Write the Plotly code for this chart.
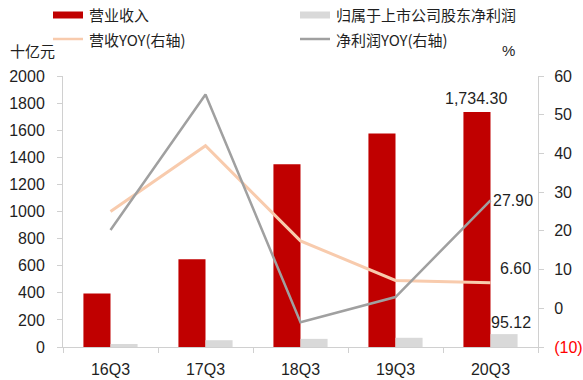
import plotly.graph_objects as go

# Quarterly figures
quarters = ["16Q3", "17Q3", "18Q3", "19Q3", "20Q3"]
revenue = [395, 648, 1348, 1576, 1734.30]          # 营业收入, 十亿元
net_profit = [22, 50, 60, 68, 95.12]                # 归属于上市公司股东净利润, 十亿元
revenue_yoy = [25.0, 42.0, 17.4, 7.2, 6.60]         # 营收YOY, %
profit_yoy = [20.2, 55.2, -3.6, 2.9, 27.90]         # 净利润YOY, %

left_ticks = list(range(0, 2001, 200))
right_ticks = list(range(-10, 61, 10))
right_ticktext = ['<span style="color:#ff0000">(10)</span>' if v < 0 else str(v) for v in right_ticks]

RED = "#C00000"
LIGHT_GRAY = "#D9D9D9"
PEACH = "#F8CBAD"
MID_GRAY = "#A0A0A0"
AXIS = "#D0D0D0"
TEXT = "#1F1F1F"
NUM_FONT = "Liberation Sans, Arial, sans-serif"
CJK_FONT = "Noto Sans CJK SC, sans-serif"

W, H = 583, 380
ML, MR, MT, MB = 63, 45, 76, 33


def px_x(p):
    return (p - ML) / (W - ML - MR)


def px_y(p):
    return (H - MB - p) / (H - MT - MB)


fig = go.Figure()
fig.add_trace(go.Bar(x=quarters, y=revenue, name="营业收入",
                     marker=dict(color=RED, line=dict(width=0)), showlegend=False))
fig.add_trace(go.Bar(x=quarters, y=net_profit, name="归属于上市公司股东净利润",
                     marker=dict(color=LIGHT_GRAY, line=dict(width=0)), showlegend=False))
fig.add_trace(go.Scatter(x=quarters, y=revenue_yoy, name="营收YOY(右轴)", yaxis="y2",
                         mode="lines", line=dict(color=PEACH, width=3), showlegend=False))
fig.add_trace(go.Scatter(x=quarters, y=profit_yoy, name="净利润YOY(右轴)", yaxis="y2",
                         mode="lines", line=dict(color=MID_GRAY, width=2.5), showlegend=False))

annotations = [
    # value labels
    dict(x=quarters[-1], y=revenue[-1], xref="x", yref="y", text=f"{revenue[-1]:,.2f}",
         showarrow=False, xanchor="center", yanchor="bottom", xshift=-15, yshift=3),
    dict(x=quarters[-1], y=net_profit[-1], xref="x", yref="y", text=f"{net_profit[-1]:.2f}",
         showarrow=False, xanchor="center", yanchor="bottom", xshift=20, yshift=1),
    dict(x=quarters[-1], y=profit_yoy[-1], xref="x", yref="y2", text=f"{profit_yoy[-1]:.2f}",
         showarrow=False, xanchor="left", yanchor="middle", xshift=0, yshift=0),
    dict(x=quarters[-1], y=revenue_yoy[-1], xref="x", yref="y2", text=f"{revenue_yoy[-1]:.2f}",
         showarrow=False, xanchor="left", yanchor="middle", xshift=7, yshift=14),
    # axis units
    dict(x=px_x(8), y=px_y(51), xref="paper", yref="paper", text="十亿元", showarrow=False,
         xanchor="left", yanchor="middle", font=dict(family=CJK_FONT, size=15, color=TEXT)),
    dict(x=px_x(500), y=px_y(51), xref="paper", yref="paper", text="%", showarrow=False,
         xanchor="left", yanchor="middle", font=dict(family=NUM_FONT, size=15, color=TEXT)),
]

# legend, laid out as a 2 x 2 grid
legend_items = [
    ("营业收入", "bar", RED, 53, 15),
    ("归属于上市公司股东净利润", "bar", LIGHT_GRAY, 300, 15),
    ("营收YOY(右轴)", "line", PEACH, 53, 39),
    ("净利润YOY(右轴)", "line", MID_GRAY, 300, 39),
]
shapes = []
for label, kind, color, x0, yc in legend_items:
    if kind == "bar":
        shapes.append(dict(type="rect", xref="paper", yref="paper",
                           x0=px_x(x0), x1=px_x(x0 + 30), y0=px_y(yc + 3.5), y1=px_y(yc - 3.5),
                           fillcolor=color, line=dict(width=0)))
    else:
        shapes.append(dict(type="line", xref="paper", yref="paper",
                           x0=px_x(x0), x1=px_x(x0 + 30), y0=px_y(yc), y1=px_y(yc),
                           line=dict(color=color, width=2.5)))
    annotations.append(dict(x=px_x(x0 + 34), y=px_y(yc), xref="paper", yref="paper", text=label,
                            showarrow=False, xanchor="left", yanchor="middle",
                            font=dict(family=CJK_FONT, size=15, color=TEXT)))

axis_common = dict(showline=True, linecolor=AXIS, linewidth=1, ticks="outside", ticklen=5,
                   tickcolor=AXIS, showgrid=False, zeroline=False, automargin=False,
                   tickfont=dict(family=NUM_FONT, size=16, color=TEXT))

fig.update_layout(
    template="none",
    width=W, height=H,
    margin=dict(l=ML, r=MR, t=MT, b=MB, autoexpand=False),
    paper_bgcolor="white", plot_bgcolor="white",
    barmode="group", bargap=0.43, bargroupgap=0,
    font=dict(family=NUM_FONT, size=16, color=TEXT),
    xaxis=dict(type="category", tickson="boundaries", ticklabelstandoff=8, **axis_common),
    yaxis=dict(range=[0, 2000], tickvals=left_ticks, ticklabelstandoff=9, **axis_common),
    yaxis2=dict(range=[-10, 60], tickvals=right_ticks, ticktext=right_ticktext,
                overlaying="y", side="right", ticklabelstandoff=7, **axis_common),
    annotations=annotations,
    shapes=shapes,
)

fig.write_html("out.html")
